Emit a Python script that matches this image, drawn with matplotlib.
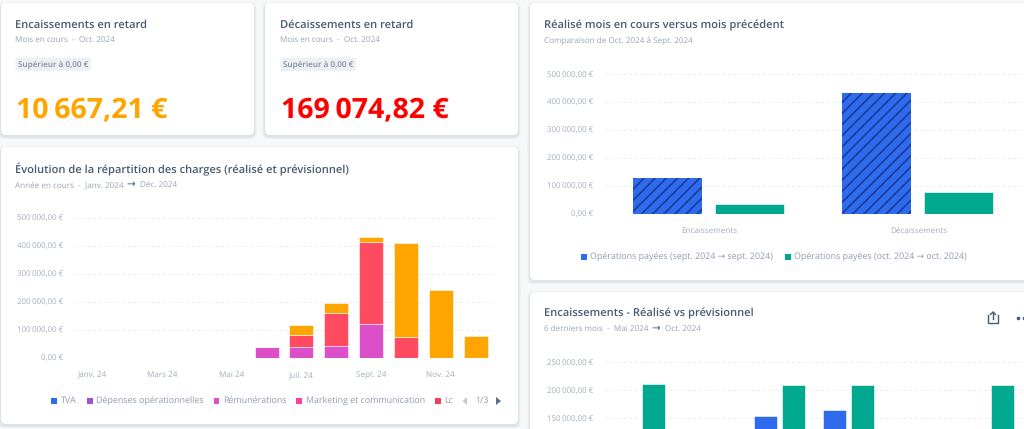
import matplotlib
matplotlib.use("Agg")
from matplotlib import pyplot as plt
from matplotlib.patches import FancyBboxPatch, Rectangle, Polygon
from matplotlib.transforms import ScaledTranslation

plt.rcParams["font.family"] = ["Open Sans", "DejaVu Sans"]
plt.rcParams["text.hinting"] = "no_hinting"
plt.rcParams["hatch.linewidth"] = 1.2

W, H = 1024, 429
BG = "#f7f8fa"
TITLE = "#465b74"
SUB = "#98a3b3"
TICK = "#a3adba"
GRID = "#e9ecf0"
BLUE = "#2f6bed"
GREEN = "#00a88f"
MAGENTA = "#dc4fc9"
RED = "#ff4a5f"
ORANGE = "#ffa500"

# charges chart
months = ["Janv.", "Févr.", "Mars", "Avr.", "Mai", "Juin", "Juil.", "Août", "Sept.", "Oct.", "Nov.", "Déc."]
month_ticks = ["Janv. 24", "Mars 24", "Mai 24", "Juil. 24", "Sept. 24", "Nov. 24"]
remunerations = [0, 0, 0, 0, 0, 38000, 39000, 43000, 121000, 0, 0, 0]
locaux = [0, 0, 0, 0, 0, 0, 44000, 119000, 293000, 76000, 0, 0]
autres = [0, 0, 0, 0, 0, 0, 34000, 35000, 18000, 335000, 244000, 77000]
charges_ticks = [0, 100000, 200000, 300000, 400000, 500000]

# current vs previous month
compare_cats = ["Encaissements", "Décaissements"]
sept_paid = [127000, 434000]
oct_paid = [34000, 77000]

# incoming, actual vs forecast (only the top of it is visible)
last_months = ["Mai", "Juin", "Juil.", "Août", "Sept.", "Oct."]
realise = [0, 0, 154000, 164000, 0, 0]
previsionnel = [211000, 0, 209000, 209000, 0, 209000]
enc_ticks = [150000, 200000, 250000]


def euro(v):
    if v == 0:
        return "0,00 €"
    return f"{v // 1000}\u202f000,00 €"


def add_axes_px(left, right, top, bottom):
    ax = fig.add_axes([left / W, 1 - bottom / H, (right - left) / W, (bottom - top) / H])
    ax.patch.set_alpha(0)
    for s in ax.spines.values():
        s.set_visible(False)
    ax.grid(axis="y", color=GRID, linestyle=(0, (3, 3)), linewidth=0.7)
    ax.set_axisbelow(True)
    ax.tick_params(length=0, labelcolor=TICK, labelsize=5.9)
    ax.tick_params(axis="y", pad=8.5, labelsize=5.7)
    ax.tick_params(axis="x", pad=9.5)
    return ax


def lift_ylabels(ax):
    # labels sit a bit above their gridline in the reference
    for t in ax.get_yticklabels():
        t.set_transform(t.get_transform() + ScaledTranslation(0, 0.6 / 72, fig.dpi_scale_trans))


def card(x0, y0, x1, y1):
    for grow, alpha in [(2.5, 0.05), (1.2, 0.08)]:
        bg.add_patch(FancyBboxPatch((x0 - grow, y0 - grow + 1.5), x1 - x0 + 2 * grow, y1 - y0 + 2 * grow,
                                    boxstyle="round,pad=0,rounding_size=6", fc="#3b5068", ec="none", alpha=alpha))
    bg.add_patch(FancyBboxPatch((x0, y0), x1 - x0, y1 - y0, boxstyle="round,pad=0,rounding_size=5", fc="white", ec="none"))


def label(x, y, s, size=6, color=SUB, **kw):
    bg.text(x, y, s, fontsize=size, color=color, va="center", **kw)


def legend_item(x, y, color, s, size=6.4):
    bg.add_patch(Rectangle((x, y - 2.7), 5.5, 5.5, fc=color, ec="none"))
    label(x + 9.5, y, s, size=size, color="#8f9bad")


fig = plt.figure(figsize=(W / 100, H / 100), dpi=100, facecolor=BG)
bg = fig.add_axes([0, 0, 1, 1])
bg.set_xlim(0, W)
bg.set_ylim(H, 0)
bg.axis("off")

card(1, 3, 254, 135)
card(265, 3, 518, 135)
card(1, 147, 518, 424)
card(530, 3, 1040, 280)
card(530, 292, 1040, 460)

# KPI cards
for x, title, value, col in [(15, "Encaissements en retard", "10\u202f667,21 €", ORANGE),
                             (280, "Décaissements en retard", "169\u202f074,82 €", "#ff0000")]:
    label(x, 25, title, size=8, color=TITLE, fontweight="semibold")
    label(x, 41, "Mois en cours  -  Oct. 2024", size=5.9)
    bg.add_patch(FancyBboxPatch((x + 0.5, 57.5), 75.5, 13.5, boxstyle="round,pad=0,rounding_size=2", fc="#eef1f4", ec="none"))
    label(x + 3, 65, "Supérieur à 0,00 €", size=5.9, color="#7f8c9e", fontweight="semibold")
    label(x + 1, 110.5, value, size=20.5, color=col, fontweight="bold")

# card titles
label(15, 169, "Évolution de la répartition des charges (réalisé et prévisionnel)", size=8, color=TITLE, fontweight="semibold")
label(15, 185, "Année en cours  -  Janv. 2024", size=5.9)
label(126, 184, "→", size=7.5, color=TITLE)
label(140, 185, "Déc. 2024", size=5.9)

label(544.5, 25, "Réalisé mois en cours versus mois précédent", size=8, color=TITLE, fontweight="semibold")
label(544.5, 41, "Comparaison de Oct. 2024 à Sept. 2024", size=5.9)

label(544.5, 313, "Encaissements - Réalisé vs prévisionnel", size=8, color=TITLE, fontweight="semibold")
label(544.5, 329, "6 derniers mois  -  Mai 2024", size=5.9)
label(651, 328, "→", size=7.5, color=TITLE)
label(665, 329, "Oct. 2024", size=5.9)

# share icon and dots
bg.plot([988, 988, 998, 998], [315, 323, 323, 315], color=TITLE, lw=1)
bg.plot([993, 993], [312, 319], color=TITLE, lw=1)
bg.plot([990.5, 993, 995.5], [314.5, 312, 314.5], color=TITLE, lw=1)
bg.plot([1018, 1023.5], [317.5, 317.5], ls="none", marker="o", ms=1.6, color=TITLE)

# charges, stacked
ax1 = add_axes_px(75, 493, 218, 358)
x = list(range(len(months)))
bot1 = remunerations
bot2 = [a + b for a, b in zip(remunerations, locaux)]
ax1.bar(x, remunerations, width=0.69, color=MAGENTA, edgecolor="white", linewidth=0.4)
ax1.bar(x, locaux, width=0.69, bottom=bot1, color=RED, edgecolor="white", linewidth=0.4)
ax1.bar(x, autres, width=0.69, bottom=bot2, color=ORANGE, edgecolor="white", linewidth=0.4)
ax1.set_xlim(-0.5, 11.5)
ax1.set_ylim(0, 500000)
ax1.set_xticks(x[::2], month_ticks)
ax1.set_yticks(charges_ticks, [euro(v) for v in charges_ticks])
lift_ylabels(ax1)

legend_item(51, 401, BLUE, "TVA")
legend_item(87, 401, "#9b51d8", "Dépenses opérationnelles")
legend_item(213.5, 401, MAGENTA, "Rémunérations")
legend_item(296, 401, "#ff3d9a", "Marketing et communication")
legend_item(435, 401, "#f04058", "Lc")
bg.add_patch(Polygon([[467, 397], [467, 405], [462.5, 401]], fc="#c4cad3", ec="none"))
label(475, 401, "1/3", size=6.4, color="#8f9bad")
bg.add_patch(Polygon([[496, 397], [496, 405], [501, 401]], fc="#5b6f88", ec="none"))

# month vs previous month
ax2 = add_axes_px(605, 1023, 74.3, 213.7)
x2 = [0, 1]
ax2.bar([v - 0.2 for v in x2], sept_paid, width=0.33, color=BLUE, edgecolor="#1c3a9c", linewidth=0, hatch="///")
ax2.bar([v + 0.19 for v in x2], oct_paid, width=0.33, color=GREEN, edgecolor="white", linewidth=0.4)
ax2.set_xlim(-0.5, 1.5)
ax2.set_ylim(0, 500000)
ax2.set_xticks(x2, compare_cats)
ax2.set_yticks(charges_ticks, [euro(v) for v in charges_ticks])
lift_ylabels(ax2)

legend_item(581, 257, BLUE, "Opérations payées (sept. 2024 → sept. 2024)")
legend_item(785, 257, GREEN, "Opérations payées (oct. 2024 → oct. 2024)")

# actual vs forecast, runs off the bottom of the picture
ax3 = add_axes_px(605, 1023, 362.3, 502.3)
x3 = list(range(len(last_months)))
ax3.bar([v - 0.2 for v in x3], realise, width=0.33, color=BLUE, edgecolor="white", linewidth=0.4)
ax3.bar([v + 0.2 for v in x3], previsionnel, width=0.33, color=GREEN, edgecolor="white", linewidth=0.4)
ax3.set_xlim(-0.5, 5.5)
ax3.set_ylim(0, 250000)
ax3.set_xticks([])
ax3.set_yticks(enc_ticks, [euro(v) for v in enc_ticks])
lift_ylabels(ax3)

fig.savefig("out.png", dpi=100, facecolor=BG)
